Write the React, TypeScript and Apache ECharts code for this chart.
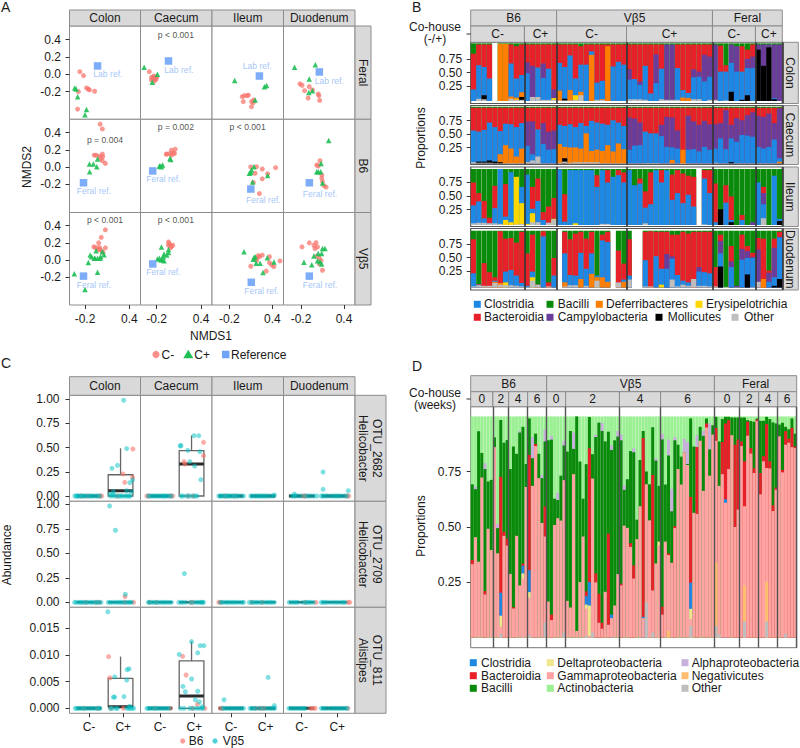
import React, { useEffect, useRef } from "react";
import * as echarts from "echarts";

// ---------- Panel A: NMDS ordination points, [NMDS1, NMDS2]
const feralColonMinus = [[-.27,.03],[-.22,-.015],[-.29,-.2],[-.18,-.157],[-.155,-.17],[-.14,-.18],[-.07,-.195],[-.3,-.4]];
const feralColonPlus = [[-.34,-.157],[-.32,-.17],[-.30,-.257],[-.18,-.406],[-.2,-.464]];
const feralCaecumMinus = [[-.30,.03],[-.27,-.065],[-.245,-.035],[-.22,-.045],[-.2,-.035],[-.25,-.065],[-.235,-.08],[-.21,-.06],[-.27,-.035],[-.235,-.02]];
const feralCaecumPlus = [[-.37,.08],[-.19,0],[-.26,-.09]];
const feralIleumMinus = [[-.02,-.257],[.01,-.245],[.05,-.245],[.065,-.24],[-.005,-.314],[.11,-.314],[.135,-.326],[.11,-.372],[.14,-.295]];
const feralIleumPlus = [[-.125,-.07],[.16,-.295],[.29,-.142],[.32,-.13]];
const feralDuodMinus = [[-.215,-.11],[-.185,-.126],[-.15,-.188],[-.085,-.142],[-.1,-.272],[-.04,-.18],[.04,-.226],[.05,-.245],[.06,-.3]];
const feralDuodPlus = [[-.29,.08],[0,.11],[-.085,-.054],[-.09,-.21],[-.04,-.188]];
const b6ColonMinus = [[.005,.50],[.035,.444],[-.075,.138],[-.05,.138],[.035,.15],[.04,.12],[-.01,.126],[.013,.1],[.035,.073],[.076,.042]];
const b6ColonPlus = [[-.14,.034],[-.087,.034],[-.03,.092],[-.04,.004],[-.137,-.054]];
const b6CaecumMinus = [[-.064,.15],[-.02,.157],[0,.195],[.05,.207],[.04,.157],[.026,.165],[-.07,.15],[0,.138]];
const b6CaecumPlus = [[-.155,.015],[-.12,.023],[-.136,.004],[-.164,.01],[-.02,.1],[-.01,.088]];
const b6IleumMinus = [[.1,0],[.18,.004],[.16,-.073],[.26,-.023],[.446,-.008],[.335,-.08],[.26,-.138],[.135,-.18],[.22,-.31]];
const b6IleumPlus = [[.144,.004],[.11,-.034],[.08,-.073],[.1,-.065],[.335,-.1],[.125,-.176]];
const b6DuodMinus = [[.065,.073],[.02,.023],[.04,.012],[.09,-.092],[.09,-.13],[.1,-.17],[.12,-.218],[.15,-.234]];
const b6DuodPlus = [[.186,.31],[.08,.042],[.04,-.054],[.02,-.054],[.075,-.054],[.1,-.188]];
const vb5ColonMinus = [[.076,.352],[.02,.264],[-.015,.2],[-.08,.153],[-.055,.146],[-.02,.123],[0,.123],[.025,.107],[.044,.088],[.076,.142],[-.005,.146]];
const vb5ColonPlus = [[-.345,-.16],[-.155,-.03],[-.13,.057],[-.11,.038],[-.05,.107],[-.065,.02],[-.03,.02],[.012,.038],[.058,.06],[.035,.096],[-.03,-.142],[-.2,-.345],[.004,.02],[-.073,.02]];
const vb5CaecumMinus = [[-.04,.21],[-.04,.172],[0,.16],[-.03,.19],[-.01,.146],[.017,.172]];
const vb5CaecumPlus = [[-.136,.153],[-.1,.07],[-.04,.123],[-.04,.088],[-.164,.02],[-.132,.008],[-.11,.038],[-.1,-.008],[-.19,.011],[-.064,.057],[-.14,0]];
const vb5IleumMinus = [[.1,-.073],[.205,.05],[.26,.057],[.18,.02],[.36,.038],[.36,-.03],[.39,-.057],[.423,-.077],[.507,-.011],[.315,-.13],[.22,.038],[.18,-.008]];
const vb5IleumPlus = [[.005,.096],[.16,.038],[.135,.008],[.175,-.038],[.23,-.038],[.33,.027],[.27,-.146],[.423,-.023],[.144,.027]];
const vb5DuodMinus = [[-.186,.153],[-.084,.2],[-.02,.172],[.01,.203],[-.005,.134],[.03,.153],[.02,.046],[.056,.02],[.08,-.008],[.056,-.046],[.1,-.12]];
const vb5DuodPlus = [[-.158,-.027],[-.05,-.054],[-.02,.046],[.03,-.008],[.04,.077],[.1,.134],[.135,.134],[.088,.077],[.088,-.046],[.065,-.02]];
const referencePoints = [[[-.03,.096],[-.04,.153],[.22,-.02],[.056,.027]],[[-.22,-.184],[-.254,-.046],[.1,-.257],[-.084,-.184]],[[-.22,-.188],[-.254,-.046],[.107,-.26],[-.084,-.188]]];
const referenceLabelSpots = [[[.11,0],[.10,.054],[.19,.09],[.195,-.073]],[[-.08,-.283],[-.11,-.142],[.274,-.38],[.065,-.314]],[[-.08,-.287],[-.11,-.142],[.25,-.36],[.065,-.287]]];
const referenceNames = ["Lab ref.","Feral ref.","Feral ref."];
const pValueNotes = [[0,1,.06,.456,"p < 0.001"],[1,0,.07,.32,"p = 0.004"],[1,1,.06,.464,"p = 0.002"],[1,2,.056,.464,"p < 0.001"],[2,0,.07,.464,"p < 0.001"],[2,1,.06,.464,"p < 0.001"]];
const tissues = ["Colon","Caecum","Ileum","Duodenum"];
const aRowNames = ["Feral","B6","Vβ5"];

// ---------- Panel B: cumulative tops (%) of each class per mouse, 58 mice per tissue
const bColonBlue = [20,62,59,39,0,0,0,65,39,45,48,0,58,40,56,5,66,59,79,39,63,63,86,32,35,0,60,68,63,37,38,28,61,13,31,56,2,2,57,19,14,41,42,34,42,0,51,51,66,51,51,57,57,0,0,0,5,0];
const bColonPurple = [0,0,0,0,0,0,0,0,0,0,67,61,0,65,0,20,0,0,0,0,0,0,0,0,0,0,0,0,0,55,0,34,0,0,81,0,98,98,0,0,0,55,51,80,77,98,0,0,98,95,0,73,77,98,98,98,98,98];
const bColonRed = [82,98,98,98,0,0,0,98,95,98,98,98,98,98,98,98,98,98,98,98,95,98,98,98,98,98,98,98,98,98,98,98,98,98,98,98,0,0,98,98,98,98,98,98,98,0,96,62,0,0,95,89,98,0,0,0,0,0];
const bColonOrange = {5:99,6:99,7:8,8:6,9:15,16:18,18:19,20:16,22:80,24:3,25:95,39:6,40:5};
const bColonYellow = {8:3,15:5,19:10};
const bColonBlack = {2:10,9:7,17:4,48:16,50:2,51:10,53:89,54:61,55:93,56:3};
const bColonOther = {1:4,2:3,7:4,8:2,9:2,11:7,12:7,13:2,14:2,15:2,16:1,17:1,18:1,19:2,20:10,23:2,24:2,29:3,30:3,31:3,32:2,35:3,36:2,37:2,38:2,41:3,42:3,44:2,45:2,47:1};
const bColonEmpty = [4];
const bCaecumBlue = [58,56,59,72,64,57,70,69,64,71,31,16,60,34,24,25,68,66,69,64,71,66,75,72,70,68,76,72,66,24,31,32,56,53,53,48,29,28,26,0,24,25,21,29,24,26,44,25,44,38,50,49,47,29,26,29,42,9];
const bCaecumPurple = [0,0,0,0,0,0,0,0,0,0,74,74,0,71,56,58,0,0,0,0,0,0,0,0,0,0,0,0,0,81,79,72,0,0,0,68,82,81,58,0,84,74,68,75,69,69,71,94,68,80,76,85,90,84,82,88,71,97];
const bCaecumRed = [98,98,98,98,98,98,98,98,98,98,98,98,98,98,98,98,98,98,98,98,98,98,98,98,98,98,98,98,98,98,98,98,98,98,98,98,98,98,98,98,98,98,98,98,98,98,98,98,98,98,98,98,98,98,98,98,98,98];
const bCaecumOrange = {5:16,6:32,7:26,8:12,9:26,10:2,16:34,17:29,18:28,19:28,20:26,21:53,22:22,23:24,24:22,25:32,26:21,27:35,28:25,37:6,39:24,57:3};
const bCaecumYellow = {};
const bCaecumBlack = {1:3,2:3,3:5,4:3,5:2,17:9,48:2};
const bCaecumOther = {0:2,1:1,2:1,3:1,10:2,11:5,12:12,16:1,17:3,18:1,19:2,20:2,21:2,22:2,23:2,45:1};
const bCaecumEmpty = [];
const bIleumBlue = [35,42,12,3,30,100,15,94,0,68,90,29,43,9,4,11,99,6,98,98,98,98,98,68,98,76,86,89,76,98,71,74,31,37,98,76,98,45,57,39,54,33,0,83,57,5,0,40,9,0,9,0,0,76,37,0,88,11];
const bIleumPurple = {52:5,54:57};
const bIleumRed = [76,57,43,13,70,0,73,0,0,0,0,68,83,23,33,48,0,55,0,0,0,0,0,89,0,98,0,98,94,0,0,83,60,94,0,98,0,90,98,92,88,86,0,98,98,74,0,71,51,0,18,0,0,0,68,0,0,0];
const bIleumOrange = {};
const bIleumYellow = {6:9,7:5,8:86,9:39,10:2,11:21,15:11,19:3};
const bIleumBlack = {46:28,48:5,57:7};
const bIleumOther = {0:3,1:4,2:4,3:3,4:3,5:2,8:1,9:2,11:5,12:5,14:4,15:10,32:3,54:12,43:1,24:2,25:2};
const bIleumEmpty = [42];
const bDuodBlue = [25,5,0,0,12,0,28,31,21,8,3,28,0,90,0,21,0,60,22,21,61,33,60,21,83,80,0,0,14,21,0,0,48,0,55,33,33,51,22,12,9,0,28,27,25,0,60,0,36,0,49,52,52,0,0,10,18,88];
const bDuodPurple = {36:59,37:55,42:36,46:82,48:46,49:3,50:68,51:64,52:54,53:67,55:26,56:70,57:89};
const bDuodRed = [85,6,43,27,18,99,86,87,79,98,60,93,5,99,9,52,0,98,85,95,98,86,98,0,93,98,0,65,42,85,0,0,98,99,98,98,98,93,93,98,95,98,98,98,98,36,93,0,73,0,93,73,61,87,86,30,86,98];
const bDuodOrange = {4:10,5:8,17:9,20:15,22:24,23:18,24:18,25:10,28:10,54:15};
const bDuodYellow = {6:9,11:18,35:5};
const bDuodBlack = {46:37,51:23,56:3,57:15};
const bDuodOther = {0:2,1:4,2:3,3:3,4:8,5:5,6:4,7:4,8:3,9:2,10:1,11:12,12:5,14:2,17:2,18:4,19:4,21:3,23:12,27:9,29:14,32:2,33:2,37:14,38:2,39:5,40:3,41:15,42:3,43:3,44:2,45:2,47:1,52:1,53:10};
const bDuodEmpty = [16,26,30,31];
const bGroupEnds = [10,16,29,45,53,58];
const bGroupLabels = ["C-","C+","C-","C+","C-","C+"];
const bHostLabels = ["B6","Vβ5","Feral"];
const bTicks = [.25,.5,.75];

// ---------- Panel C: abundances. Zero-valued mice are given as lists of jittered x positions
const cColonHeliV = [[2.01,.99],[2.10,.49],[1.83,.317],[1.67,.286],[2.19,.138],[2.27,.166],[2.1,.055],[1.71,.045],[2.24,.045],[1.61,.02],[1.71,.014]];
const cColonHeliB = [[2.28,.486],[1.99,.228],[2.04,.141],[2.27,.193]];
const cCaecumHeliV = [[1.59,.517],[1.61,.522],[1.81,.472],[1.87,.355],[1.99,.624],[2.13,.624],[2.16,.459],[2.01,.31],[2.19,.169]];
const cCaecumHeliB = [[1.7,.355],[1.73,.33],[2.27,.555],[2.27,.417]];
const cIleumHeliV = [[2.25,.01]];
const cDuodHeliV = [[1.6,.248],[1.6,.069],[.8,.02],[2.31,.055]];
const cColonHel2V = [[1.6,.983],[1.77,.735],[2.06,.082]];
const cColonHel2B = [[2.05,.058]];
const cCaecumHel2V = [[1.71,.293]];
const cColonAliV = [[1.55,.0181],[1.75,.0059],[2.1,.0053],[2.11,.00725],[2.17,.0074],[1.71,.0021],[1.75,.0021],[2.02,.0022],[2.19,.0004]];
const cColonAliB = [[1.57,.0097],[1.61,.0057]];
const cCaecumAliV = [[1.56,.0101],[1.92,.0125],[2.1,.0104],[2.17,.01175],[2.28,.01175],[1.92,.0055],[1.67,.0041],[1.74,.0031],[2.1,.0032],[2.03,.0016],[2.15,.0012],[2.23,.0003]];
const cCaecumAliB = [[1.66,.00975],[1.76,.00625],[2.09,.00075]];
const cIleumAliV = [[.8,.0016],[2.07,.0058],[2.25,.0005]];
const cZeroV = [
 [[.59,.63,.67,.71,.76,.8,.86,.9,.97,1.03,1.08,1.13,1.2,1.25,1.32,1.63,1.72,1.8,1.87,1.93,1.97,2.05,2.1,2.16,2.2],[.66,.72,.78,.83,.88,.95,1,1.06,1.1,1.14,1.2,1.26,1.33,1.62,1.67,1.78,1.85,1.95,2.02,2.08],[.65,.7,.74,.8,.86,.9,.94,1,1.05,1.1,1.15,1.2,1.28,1.36,1.57,1.62,1.68,1.74,1.8,1.85,1.9,1.96,2.02,2.08,2.15,2.22],[.72,.78,.82,.9,.98,1.1,1.18,1.25,1.33,1.42,1.55,1.6,1.66,1.72,1.8,1.87,1.93,2,2.05,2.12,2.2,2.27]],
 [[.58,.63,.7,.75,.8,.86,.92,.98,1.05,1.1,1.17,1.23,1.28,1.35,1.56,1.62,1.68,1.75,1.82,1.88,1.94,2,2.08,2.14,2.19,2.24],[.66,.7,.77,.83,.89,.95,1.02,1.08,1.14,1.2,1.27,1.33,1.55,1.62,1.68,1.76,1.88,1.96,2.04,2.1,2.16,2.2,2.24,2.27],[.7,.75,.82,.88,.93,1,1.06,1.12,1.18,1.25,1.32,1.36,1.53,1.6,1.66,1.72,1.78,1.85,1.92,2,2.06,2.12,2.18,2.25],[.65,.72,.78,.84,.9,1.02,1.1,1.15,1.2,1.26,1.33,1.55,1.6,1.66,1.72,1.8,1.88,1.95,2.02,2.1,2.16,2.22]],
 [[.6,.65,.7,.76,.82,.88,.94,1.02,1.08,1.15,1.22,1.28,1.32,1.62,1.68,1.78,1.83,2.1,2.16,2.2,2.26,2.3],[.62,.67,.72,.78,.84,.9,.96,1.02,1.08,1.14,1.2,1.26,1.6,1.7,1.86,1.95,2.05,2.12,2.2,2.25],[.76,.82,.88,.95,1,1.06,1.12,1.18,1.24,1.3,1.36,1.55,1.6,1.66,1.72,1.82,1.9,2,2.08,2.14,2.2,2.26],[.64,.7,.76,.82,.88,.94,1,1.05,1.1,1.55,1.6,1.66,1.72,1.8,1.86,1.92,1.98,2.04,2.1,2.16,2.22,2.28]],
];
const cZeroB = [
 [[.78,.96,1.3,1.37,1.83],[.62,.68,1.3,1.37,1.82,1.97],[.85,1.1],[1.05,1.1,2.27,2.32]],
 [[.9,1.2,1.3,2.3,2.05],[.7,.9,1.9,1.95],[.65,.72,1.6,1.9],[1.1,1.4,2.3,2.35]],
 [[.85,1.25,1.64,2],[.85,1.3,1.95,2.31],[.7,.75,1.7,1.85,1.95],[1.25,1.32,1.38,2.3]],
];
const cBoxes = [[0,0,[2-.08,0,0,.22,.493]],[0,1,[2-.08,0,0,.47,.625]],[2,0,[2-.08,0,.0003,.0056,.0097]],[2,1,[2-.08,0,0,.0089,.0125]]];
const cMedians = [
 [[0,.055],[0,.33],[0,0],[0,0]],
 [[0,0],[0,0],[0,0],[0,0]],
 [[0,.0003],[0,.0023],[0,0],[0,0]],
];
const cRowStrips = [["OTU_2682","Helicobacter"],["OTU_2709","Helicobacter"],["OTU_811","Alistipes"]];
const cRowTicks = [[0,.25,.5,.75,1],[0,.25,.5,.75,1],[0,.005,.01,.015]];

// ---------- Panel D: cumulative tops (%) of each class, 103 samples
const dGroupEnds = [7,12,18,24,30,47,60,77,85,91,97,103];
const dWeekLabels = ["0","2","4","6","0","2","4","6","0","2","4","6"];
const dHostEnds = [24,77,103];
const dPink = [33.2,45.4,34.3,72.4,19.5,49.2,39.6,86.1,38.1,4.9,46,41.6,28.8,13.1,46,23.6,26.7,68.1,18,68.6,86.6,72.1,51.8,45.7,16.3,7.9,50.9,54,52.9,71.2,16.6,13.6,73.9,3,25.1,45.7,13.1,0.8,71.9,25,6.7,4,20.7,5.8,8.8,14.5,28.7,23.6,50.6,49.6,41,26.7,44.5,59.4,8.8,69.3,53,21.3,33.5,41.6,10.4,43.4,37.3,33.8,49.5,76.2,69.2,83.8,78,8.4,56.4,55.9,89,66.3,95,73.2,91.8,89,68.6,73.9,61,76.2,91.5,50,57.9,86.6,59.4,91.3,83.2,74.4,97.9,64.8,79.7,76.7,76.5,57.2,66.8,91,74.7,87.2,88.1,86.1,85.7];
const dRed = [35.1,0,0,0,21,0,0,0,0,72.7,47.9,44.7,0,13.7,0,0,33.5,0,82.6,0,87.5,0,0,59.3,0,10.4,0,0,0,0,0,0,0,0,0,0,20.9,85.6,0,29,19.8,6.7,0,47,0,0,0,24.4,0,0,42.7,32.6,0,0,90.2,0,0,73.5,0,0,14,0,38,0,50.4,0,0,0,0,63.6,0,86.1,0,0,96.8,0,0,94.8,0,88.4,96.8,98.3,0,87.2,89.6,88.7,79.7,97.6,85.7,76.5,98.6,74.4,82,96.5,79.7,59.8,67.8,0,75.8,93.3,89.9,94.8,86.4];
const dGreen = [69.3,67.1,93.3,83.5,76.2,70.6,71.3,90.5,49.5,98.4,88.1,89.3,76.2,86.4,83.1,92.7,95.3,78.5,99.1,81.1,92.2,83.1,72.1,88.7,89.2,89.5,62.8,62.2,73.2,86.9,84.1,93.4,85.3,100,79.6,62.8,78.4,99.7,82.9,90.7,97.2,93.4,88.7,93.1,84.8,89.2,90.9,89.2,66.8,71.6,84.3,83.8,53.3,80.3,93.4,75.1,69.3,95.1,80,68.6,89.6,69.2,82.3,57.1,89.2,87.2,81.8,83.8,78.5,99.1,86.4,86.1,95.3,91.2,99.1,85.1,96,99.8,88.7,98.8,99.8,99.8,99.5,99.5,99.5,99.5,99.5,98.3,97.9,97.6,99.1,98,98,99.8,98.8,97.3,96.8,96.3,97.1,95.3,94.2,99.1,92.2];
const dLilac = {1:68.3,4:78.8,8:51.4,15:93.4,19:90.7,22:73.5,23:94,25:91.2,27:65.5,29:89,32:92.7,39:91.8,41:97,44:86.9,46:93.4,47:91.8,48:68.9,51:85.6,58:81.1,60:92.2,62:89.6,63:67.3,64:90.7,67:89.9,68:88.4,71:91.5,73:93.6,75:96.8};
const dDelta = {9:9.9,16:29,18:20.6,36:14.9,37:14.5,59:43.4,69:13};
const dClost = {9:20.3,16:32.5,18:30.5,36:18.7,37:25.1,44:10.4,54:9.4,69:24.8,80:62.5};
const dNeg = {62:3,77:33.8,86:23.6,93:25.2};
const dOther = {9:1.8,18:1.2,23:6.9,29:2.3,36:.8,38:2.3,55:16,57:2.3,69:5.3,77:5.3,78:1.5,86:7.3,93:7.3,99:1.8};
const dTicks = [.25,.5,.75];

// ---------- Styles
const SANS = "'Liberation Sans', Arial, sans-serif";
const C = { strip:"#D9D9D9", border:"#8c8c8c", tick:"#333", text:"#1a1a1a", pink:"#F8766D", teal:"#00BFC4", green:"#1FBF55", ref:"#6FA3F7", refText:"#8DB5F6" };
const BC = { clost:"#1E88E5", bact:"#E8202A", bac:"#0A8A0A", def:"#FF7F00", ery:"#FFD700", camp:"#6A3D9A", moll:"#000", other:"#BEBEBE" };
const DC = { clost:"#1E88E5", bact:"#E8202A", bac:"#0A8A0A", delta:"#F0E68C", gamma:"#FFA3A3", act:"#9CF094", alpha:"#C7B0DC", neg:"#FDBF6F", other:"#BEBEBE" };

// range helper: the values at pxStart/pxEnd, given two known tick pixels
const rangeFrom = (pxStart:number, pxEnd:number, p1:number, v1:number, p2:number, v2:number) => {
  const k = (v2 - v1) / (p2 - p1);
  return [v1 + (pxStart - p1) * k, v1 + (pxEnd - p1) * k];
};
const sparse = (o:any, n:number) => Array.from({ length:n }, (_, i) => (o[i] === undefined ? "-" : o[i] / 100));
const frac = (a:number[]) => a.map(v => (v === 0 ? "-" : v / 100));

function buildOption() {
  const grid:any[] = [], xAxis:any[] = [], yAxis:any[] = [], series:any[] = [], g:any[] = [];
  const tickStyle = { show:true, length:4, lineStyle:{ color:C.tick, width:1 } };
  const noLine = { show:false, onZero:false };
  const numLabel = (d:number, margin=8.5) => ({ show:true, color:C.text, fontFamily:SANS, fontSize:12, margin, formatter:(v:number)=>v.toFixed(d) });

  const addGrid = (x0:number,x1:number,y0:number,y1:number,border=C.border,bw=1) => {
    grid.push({ left:x0, top:y0, width:x1-x0, height:y1-y0, show:true, backgroundColor:"#fff", borderColor:border, borderWidth:bw, containLabel:false });
    return grid.length-1;
  };
  const txt = (x:number,y:number,text:string,size=12,rot=0,fill=C.text) => {
    g.push({ type:"text", x, y, rotation:rot, z:100, style:{ text, fontSize:size, lineHeight:12, fontFamily:SANS, fill, align:"center", verticalAlign:"middle" } });
  };
  const strip = (x:number,y:number,w:number,h:number,label:string,rot=0) => {
    g.push({ type:"rect", shape:{x,y,width:w,height:h}, style:{ fill:C.strip, stroke:C.border, lineWidth:1 } });
    if (label) txt(x+w/2,y+h/2,label,12,rot);
  };
  const txtL = (x:number,y:number,text:string,size=12) => {
    g.push({ type:"text", x, y, z:100, style:{ text, fontSize:size, fontFamily:SANS, fill:C.text, align:"left", verticalAlign:"middle" } });
  };
  const sq = (cx:number,cy:number,s:number,fill:string) => g.push({ type:"rect", z:100, shape:{x:cx-s/2,y:cy-s/2,width:s,height:s}, style:{ fill } });

  // ===== Panel A =====
  const colXA = [69.5,140.5,212,283.5,355];
  const rowYA = [[26,119.3],[119.3,212.5],[212.5,305]];
  const xTicksA = [[85,129.3],[156.7,201],[229.3,272.3],[301,344]];
  const yTicksA = [[39.5,74.3],[132.7,167],[225.7,260]];
  const aMinus = [[feralColonMinus,feralCaecumMinus,feralIleumMinus,feralDuodMinus],[b6ColonMinus,b6CaecumMinus,b6IleumMinus,b6DuodMinus],[vb5ColonMinus,vb5CaecumMinus,vb5IleumMinus,vb5DuodMinus]];
  const aPlus = [[feralColonPlus,feralCaecumPlus,feralIleumPlus,feralDuodPlus],[b6ColonPlus,b6CaecumPlus,b6IleumPlus,b6DuodPlus],[vb5ColonPlus,vb5CaecumPlus,vb5IleumPlus,vb5DuodPlus]];
  tissues.forEach((t,c)=> strip(colXA[c],10,colXA[c+1]-colXA[c],16,t));
  aRowNames.forEach((n,r)=> strip(355,rowYA[r][0],16,rowYA[r][1]-rowYA[r][0],n,-Math.PI/2));
  aRowNames.forEach((_,r)=> tissues.forEach((_t,c)=>{
    const gi = addGrid(colXA[c],colXA[c+1],rowYA[r][0],rowYA[r][1]);
    const xr = rangeFrom(colXA[c],colXA[c+1],xTicksA[c][0],-.2,xTicksA[c][1],.4);
    const yr = rangeFrom(rowYA[r][1],rowYA[r][0],yTicksA[r][1],0,yTicksA[r][0],.4);
    const showX = r===2, showY = c===0;
    xAxis.push({ gridIndex:gi, type:"value", min:xr[0], max:xr[1], splitLine:{show:false}, axisLine:noLine,
      axisTick:{...tickStyle, show:showX, customValues:[-.2,.4]}, axisLabel:{...numLabel(1,8), show:showX, customValues:[-.2,.4]} });
    yAxis.push({ gridIndex:gi, type:"value", min:yr[0], max:yr[1], splitLine:{show:false}, axisLine:noLine,
      axisTick:{...tickStyle, show:showY, customValues:[-.2,0,.2,.4]}, axisLabel:{...numLabel(1), show:showY, customValues:[-.2,0,.2,.4]} });
    const xi = xAxis.length-1, yi = yAxis.length-1;
    series.push({ type:"scatter", name:"C-", xAxisIndex:xi, yAxisIndex:yi, data:aMinus[r][c], symbol:"circle", symbolSize:5, itemStyle:{ color:C.pink, opacity:.75 }, silent:true });
    series.push({ type:"scatter", name:"C+", xAxisIndex:xi, yAxisIndex:yi, data:aPlus[r][c], symbol:"triangle", symbolSize:5.5, itemStyle:{ color:C.green, opacity:.9 }, silent:true });
    series.push({ type:"scatter", name:"Reference", xAxisIndex:xi, yAxisIndex:yi, data:[referencePoints[r][c]], symbol:"rect", symbolSize:7.5, itemStyle:{ color:C.ref, opacity:.9 }, silent:true });
    const notes = pValueNotes.filter(n=>n[0]===r&&n[1]===c).map(n=>({ value:[n[2],n[3]], name:n[4], label:{ color:"#222", fontSize:8.6 } }));
    const data = [{ value:referenceLabelSpots[r][c], name:referenceNames[r], label:{ color:C.refText, fontSize:8.6 } }, ...notes];
    series.push({ type:"scatter", xAxisIndex:xi, yAxisIndex:yi, data, symbolSize:0, silent:true, label:{ show:true, position:"inside", fontFamily:SANS, formatter:"{b}" } });
  }));
  txt(27,167,"NMDS2",12,Math.PI/2);
  txt(211,336,"NMDS1",12);
  g.push({ type:"circle", z:100, shape:{cx:156,cy:354.5,r:3.6}, style:{ fill:C.pink, opacity:.8 } });
  txtL(161.5,354.5,"C-",12);
  g.push({ type:"polygon", z:100, shape:{ points:[[188.3,349.8],[183.3,358.2],[193.3,358.2]] }, style:{ fill:C.green } });
  txtL(194.3,354.5,"C+",12);
  sq(225.7,354.5,7.5,C.ref);
  txtL(231,354.5,"Reference",12);

  // ===== Panel B =====
  const bL = 470.7, bR = 782.3, bN = 58;
  const bStep = (bR-bL)/bN;
  const bRows = [
    { name:"Colon", y:[42.3,103.5], bars:[43.3,101], t:[59.3,86], blue:bColonBlue, purple:frac(bColonPurple), red:bColonRed, orange:bColonOrange, yellow:bColonYellow, black:bColonBlack, other:bColonOther, empty:bColonEmpty },
    { name:"Caecum", y:[105.5,164.5], bars:[106.7,163.3], t:[120.7,147.7], blue:bCaecumBlue, purple:frac(bCaecumPurple), red:bCaecumRed, orange:bCaecumOrange, yellow:bCaecumYellow, black:bCaecumBlack, other:bCaecumOther, empty:bCaecumEmpty },
    { name:"Ileum", y:[167,226.5], bars:[169,225], t:[182.3,209.7], blue:bIleumBlue, purple:sparse(bIleumPurple,bN), red:bIleumRed, orange:bIleumOrange, yellow:bIleumYellow, black:bIleumBlack, other:bIleumOther, empty:bIleumEmpty },
    { name:"Duodenum", y:[228.5,290], bars:[230.7,287.5], t:[244.3,271], blue:bDuodBlue, purple:sparse(bDuodPurple,bN), red:bDuodRed, orange:bDuodOrange, yellow:bDuodYellow, black:bDuodBlack, other:bDuodOther, empty:bDuodEmpty },
  ];
  const bEdges = [0,...bGroupEnds].map(n=>bL+n*bStep);
  strip(bEdges[0],10,bEdges[2]-bEdges[0],16,bHostLabels[0]);
  strip(bEdges[2],10,bEdges[4]-bEdges[2],16,bHostLabels[1]);
  strip(bEdges[4],10,bEdges[6]-bEdges[4],16,bHostLabels[2]);
  bGroupLabels.forEach((l,i)=> strip(bEdges[i],26,bEdges[i+1]-bEdges[i],16.3,l));
  g.push({ type:"line", shape:{x1:466.5,y1:34,x2:470.7,y2:34}, style:{stroke:C.tick,lineWidth:1} });
  txt(435,33,"Co-house\n(-/+)",12);
  const bCats = Array.from({length:bN},(_,i)=>String(i+1));
  bRows.forEach(row=>{
    strip(bR,row.y[0],16,row.y[1]-row.y[0],row.name,-Math.PI/2);
    const gi = addGrid(bL,bR,row.y[0],row.y[1],"#555",1.2);
    const barsR = rangeFrom(row.y[1],row.y[0],row.bars[1],0,row.bars[0],1);
    const tickR = rangeFrom(row.y[1],row.y[0],row.t[1],.25,row.t[0],.75);
    xAxis.push({ gridIndex:gi, type:"category", data:bCats, z:6, axisLabel:{show:false}, axisTick:{show:false}, axisLine:{show:false},
      splitLine:{ show:true, interval:(i:number)=>bGroupEnds.slice(0,5).includes(i), lineStyle:{ color:"#333", width:1.6 } } });
    const xi = xAxis.length-1;
    yAxis.push({ gridIndex:gi, type:"value", show:false, min:barsR[0], max:barsR[1], splitLine:{show:false} });
    const yi = yAxis.length-1;
    yAxis.push({ gridIndex:gi, type:"value", min:tickR[0], max:tickR[1], position:"left", splitLine:{show:false}, axisLine:noLine,
      axisTick:{...tickStyle, customValues:bTicks}, axisLabel:{...numLabel(2), customValues:bTicks} });
    const full = bCats.map((_,i)=> row.empty.includes(i) ? "-" : 1);
    const layers:any[] = [
      ["Bacilli",full,BC.bac],["Bacteroidia",frac(row.red),BC.bact],["Campylobacteria",row.purple,BC.camp],["Clostridia",frac(row.blue),BC.clost],
      ["Deferribacteres",sparse(row.orange,bN),BC.def],["Erysipelotrichia",sparse(row.yellow,bN),BC.ery],["Mollicutes",sparse(row.black,bN),BC.moll],["Other",sparse(row.other,bN),BC.other],
    ];
    layers.forEach(([name,data,color])=> series.push({ type:"bar", name, xAxisIndex:xi, yAxisIndex:yi, data, barWidth:"96%", barGap:"-100%", silent:true, itemStyle:{ color } }));
  });
  txt(420.7,138,"Proportions",12,Math.PI/2);
  const bLegend:any[] = [
    [477.3,484,304.3,"Clostridia",BC.clost],[550,557.7,304.3,"Bacilli",BC.bac],[599.3,606,304.3,"Deferribacteres",BC.def],[699,706,304.3,"Erysipelotrichia",BC.ery],
    [477.3,484,317.3,"Bacteroidia",BC.bact],[550,557.7,317.3,"Campylobacteria",BC.camp],[659,667.7,317.3,"Mollicutes",BC.moll],[735,744,317.3,"Other",BC.other],
  ];
  bLegend.forEach(([sx,tx,y,t,col])=>{ sq(sx,y,7,col); txtL(tx,y,t,12); });

  // ===== Panel C =====
  const rowYC = [[395.3,501.3],[501.3,607.3],[607.3,713.3]];
  const yTickC = [[496,0,399.3,1],[602.3,0,504.3,1],[708.3,0,628.3,.015]];
  const xTickC = [[89,123.3],[160,194.3],[231,265.7],[301.7,337.3]];
  const labelDigits = [2,2,3];
  const cNonZeroV = [[cColonHeliV,cCaecumHeliV,cIleumHeliV,cDuodHeliV],[cColonHel2V,cCaecumHel2V,[],[]],[cColonAliV,cCaecumAliV,cIleumAliV,[]]];
  const cNonZeroB = [[cColonHeliB,cCaecumHeliB,[],[]],[cColonHel2B,[],[],[]],[cColonAliB,cCaecumAliB,[],[]]];
  tissues.forEach((t,c)=> strip(colXA[c],376.7,colXA[c+1]-colXA[c],18.6,t));
  cRowStrips.forEach((s,r)=>{
    strip(355,rowYC[r][0],31,rowYC[r][1]-rowYC[r][0],"");
    txt(376.7,(rowYC[r][0]+rowYC[r][1])/2,s[0],12,-Math.PI/2);
    txt(362.7,(rowYC[r][0]+rowYC[r][1])/2,s[1],12,-Math.PI/2);
  });
  cRowStrips.forEach((_,r)=> tissues.forEach((_t,c)=>{
    const gi = addGrid(colXA[c],colXA[c+1],rowYC[r][0],rowYC[r][1]);
    const xr = rangeFrom(colXA[c],colXA[c+1],xTickC[c][0],1,xTickC[c][1],2);
    const t = yTickC[r];
    const yr = rangeFrom(rowYC[r][1],rowYC[r][0],t[0],t[1],t[2],t[3]);
    const showX = r===2, showY = c===0;
    xAxis.push({ gridIndex:gi, type:"value", min:xr[0], max:xr[1], splitLine:{show:false}, axisLine:noLine,
      axisTick:{...tickStyle, show:showX, customValues:[1,2]}, axisLabel:{ show:showX, customValues:[1,2], color:C.text, fontFamily:SANS, fontSize:12, margin:8, formatter:(v:number)=> v===1?"C-":"C+" } });
    yAxis.push({ gridIndex:gi, type:"value", min:yr[0], max:yr[1], splitLine:{show:false}, axisLine:noLine,
      axisTick:{...tickStyle, show:showY, customValues:cRowTicks[r]}, axisLabel:{...numLabel(labelDigits[r],10), lineHeight:8, show:showY, customValues:cRowTicks[r]} });
    const xi = xAxis.length-1, yi = yAxis.length-1;
    const hw = .36;
    [1,2].forEach((m,k)=>{
      const y = cMedians[r][c][k];
      const cx = m===2 ? 1.92 : 1;
      series.push({ type:"line", name:"median", xAxisIndex:xi, yAxisIndex:yi, data:[[cx-hw,y],[cx+hw,y]], symbol:"none", silent:true, lineStyle:{ color:"#2b2b2b", width:r===1?2:3 }, z:2 });
    });
    cBoxes.filter(b=>b[0]===r&&b[1]===c).forEach(b=>{
      series.push({ type:"custom", name:"box", xAxisIndex:xi, yAxisIndex:yi, data:[b[2]], silent:true, z:1, encode:{ x:0, y:[1,2,3,4] },
        renderItem:(_p:any,api:any)=>{
          const x = api.value(0);
          const a = api.coord([x-hw,api.value(3)]), d = api.coord([x+hw,api.value(2)]);
          const wTop = api.coord([x,api.value(4)]), mid = api.coord([x,api.value(3)]);
          const st = { fill:"none", stroke:"#666", lineWidth:1.3 };
          return { type:"group", children:[
            { type:"rect", shape:{ x:a[0], y:a[1], width:d[0]-a[0], height:d[1]-a[1] }, style:st },
            { type:"line", shape:{ x1:mid[0], y1:wTop[1], x2:mid[0], y2:mid[1] }, style:st },
          ]};
        } });
    });
    const pts = (zeros:number[], other:any[]) => [...zeros.map(x=>[x,0]), ...other];
    series.push({ type:"scatter", name:"B6", xAxisIndex:xi, yAxisIndex:yi, data:pts(cZeroB[r][c],cNonZeroB[r][c]), symbolSize:5, silent:true, itemStyle:{ color:C.pink, opacity:.6 }, z:3 });
    series.push({ type:"scatter", name:"Vβ5", xAxisIndex:xi, yAxisIndex:yi, data:pts(cZeroV[r][c],cNonZeroV[r][c]), symbolSize:5, silent:true, itemStyle:{ color:C.teal, opacity:.5 }, z:3 });
  }));
  txt(7,555,"Abundance",12,Math.PI/2);
  g.push({ type:"circle", z:100, shape:{cx:182.7,cy:741,r:2.6}, style:{ fill:C.pink, opacity:.7 } });
  txtL(188.7,741,"B6",12);
  g.push({ type:"circle", z:100, shape:{cx:215,cy:741,r:2.6}, style:{ fill:C.teal, opacity:.7 } });
  txtL(222.7,741,"Vβ5",12);

  // ===== Panel D =====
  const dL = 470.7, dR = 796.7, dN = 103;
  const dStep = (dR-dL)/dN;
  const dY0 = 406.7, dY1 = 647.7;
  const dHostEdges = [0,...dHostEnds].map(n=>dL+n*dStep);
  bHostLabels.forEach((l,i)=> strip(dHostEdges[i],375.7,dHostEdges[i+1]-dHostEdges[i],16,l));
  const dEdges = [0,...dGroupEnds].map(n=>dL+n*dStep);
  dWeekLabels.forEach((l,i)=> strip(dEdges[i],391.7,dEdges[i+1]-dEdges[i],15,l));
  txt(435,399,"Co-house\n(weeks)",12);
  g.push({ type:"line", shape:{x1:466.5,y1:399,x2:470.7,y2:399}, style:{stroke:C.tick,lineWidth:1} });
  const dgi = addGrid(dL,dR,dY0,dY1,"#777",1);
  const dr = rangeFrom(dY1,dY0,582.3,.25,471.7,.75);
  const dCats = Array.from({length:dN},(_,i)=>String(i+1));
  xAxis.push({ gridIndex:dgi, type:"category", data:dCats, z:6, axisLabel:{show:false}, axisTick:{show:false}, axisLine:{show:false},
    splitLine:{ show:true, interval:(i:number)=>dGroupEnds.slice(0,11).includes(i), lineStyle:{ color:"#555", width:1.4 } } });
  yAxis.push({ gridIndex:dgi, type:"value", min:dr[0], max:dr[1], splitLine:{show:false}, axisLine:noLine,
    axisTick:{...tickStyle, customValues:dTicks}, axisLabel:{...numLabel(2,9.5), customValues:dTicks} });
  const dxi = xAxis.length-1, dyi = yAxis.length-1;
  const dLayers:any[] = [
    ["Actinobacteria",dCats.map(()=>1),DC.act],["Alphaproteobacteria",sparse(dLilac,dN),DC.alpha],["Bacilli",frac(dGreen),DC.bac],["Bacteroidia",frac(dRed),DC.bact],
    ["Clostridia",sparse(dClost,dN),DC.clost],["Deltaproteobacteria",sparse(dDelta,dN),DC.delta],["Gammaproteobacteria",frac(dPink),DC.gamma],["Negativicutes",sparse(dNeg,dN),DC.neg],["Other",sparse(dOther,dN),DC.other],
  ];
  dLayers.forEach(([name,data,color])=> series.push({ type:"bar", name, xAxisIndex:dxi, yAxisIndex:dyi, data, barWidth:"96%", barGap:"-100%", silent:true, itemStyle:{ color } }));
  txt(421,526,"Proportions",12,Math.PI/2);
  const dLegend:any[] = [
    [473.3,481,662.7,"Clostridia",DC.clost],[473.3,481,675.7,"Bacteroidia",DC.bact],[473.3,481,688.3,"Bacilli",DC.bac],
    [550.3,557.3,662.7,"Deltaproteobacteria",DC.delta],[550.3,557.3,675.7,"Gammaproteobacteria",DC.gamma],[550.3,557.3,688.3,"Actinobacteria",DC.act],
    [685,691.7,662.7,"Alphaproteobacteria",DC.alpha],[685,691.7,675.7,"Negativicutes",DC.neg],[685,691.7,688.3,"Other",DC.other],
  ];
  dLegend.forEach(([sx,tx,y,t,col])=>{ sq(sx,y,7,col); txtL(tx,y,t,12); });

  // Panel letters
  [["A",1,7],["B",412,7],["C",1,363],["D",412,366]].forEach(([t,x,y]:any)=> txtL(x,y,t,14));

  return { animation:false, backgroundColor:"#fff", grid, xAxis, yAxis, series, graphic:{ elements:g } };
}

export default function App() {
  const ref = useRef<HTMLDivElement>(null);
  useEffect(() => {
    document.body.style.margin = "0";
    const chart = echarts.init(ref.current!, undefined, { renderer:"svg" });
    chart.setOption(buildOption() as any);
    return () => chart.dispose();
  }, []);
  return <div ref={ref} style={{ width:800, height:748 }} />;
}
